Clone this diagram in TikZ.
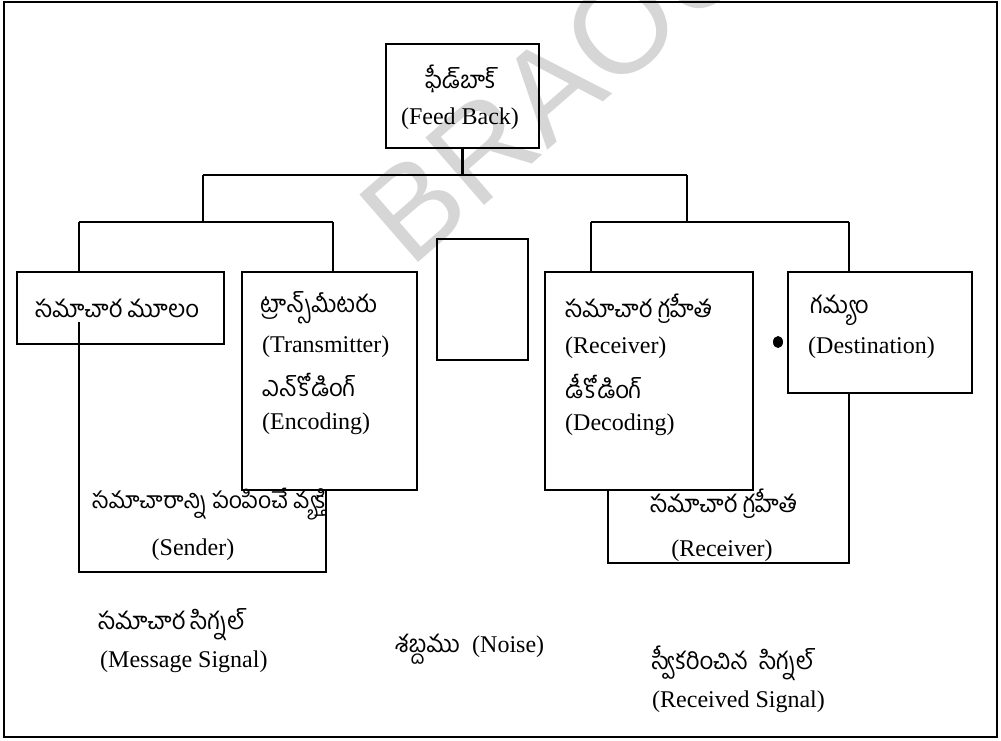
\documentclass[tikz,border=0pt]{standalone}
\usepackage{fontspec}
\setmainfont{Liberation Serif}
\newfontfamily\tel[Script=Telugu]{Hind Guntur}
\newfontfamily\wmfont{Liberation Sans}
\begin{document}
\begin{tikzpicture}[x=1pt,y=-1pt,
  box/.style={draw, line width=2.6pt, inner sep=0pt, outer sep=0pt},
  ln/.style={line width=2.6pt},
  en/.style={font=\fontsize{24}{28}\selectfont, inner sep=0pt, anchor=west},
  te/.style={font=\tel\fontsize{24}{28}\selectfont, inner sep=0pt, anchor=west},
  wm/.style={text=black!16, font=\wmfont\fontsize{130}{130}\selectfont, inner sep=0pt}]
\useasboundingbox (0,0) rectangle (1001,741);
% watermark
\node[wm, rotate=41] (mark) at (556,84) {BRAOU};
% frame
\draw[line width=2pt] (4,2) rectangle (997,737);
% boxes
\node[box, minimum width=153pt, minimum height=104pt] (fb) at (462.5,96) {};
\node[box, minimum width=207pt, minimum height=72pt] (src) at (120.5,308) {};
\node[box, minimum width=175pt, minimum height=218pt] (tx) at (329.5,381) {};
\node[box, minimum width=91pt, minimum height=121pt] (mid) at (482.5,299.5) {};
\node[box, minimum width=208pt, minimum height=218pt] (rx) at (649,381) {};
\node[box, minimum width=184pt, minimum height=121pt] (dst) at (880,332.5) {};
% junction coordinates
\coordinate (jt) at (462.5,175);
\coordinate (jl) at (203,175);
\coordinate (jr) at (687,175);
\coordinate (ll) at (79,222);
\coordinate (lr) at (333,222);
\coordinate (rl) at (591,222);
\coordinate (rr) at (849,222);
\coordinate (sa) at (79,322);
\coordinate (sb) at (79,572);
\coordinate (sc) at (326,572);
\coordinate (ra) at (608,563);
\coordinate (rb) at (849,563);
% connectors
\draw[ln] (fb.south) -- (jt);
\draw[ln] (jl) -- (jr);
\draw[ln] (jl) -- (jl |- ll);
\draw[ln] (jr) -- (jr |- rl);
\draw[ln] (ll) -- (lr);
\draw[ln] (ll) -- (ll |- src.north);
\draw[ln] (lr) -- (lr |- tx.north);
\draw[ln] (rl) -- (rr);
\draw[ln] (rl) -- (rl |- rx.north);
\draw[ln] (rr) -- (rr |- dst.north);
\draw[ln] (sa) -- (sb) -- (sc) -- (sc |- tx.south);
\draw[ln] (ra |- rx.south) -- (ra) -- (rb) -- (rb |- dst.south);
% blob
\fill (778,342) ellipse (5pt and 6pt);
% texts
\node[te, anchor=center] (fbt) at (461,79) {ఫీడ్‌బాక్};
\node[en, anchor=center] (fbe) at (460,119) {(Feed Back)};
\node[te] (srct) at (35,308) {సమాచార మూలం};
\node[te] (tx1) at (260,308) {ట్రాన్స్‌మీటరు};
\node[en] (tx2) at (262,347) {(Transmitter)};
\node[te] (tx3) at (262,385) {ఎన్‌కోడింగ్};
\node[en] (tx4) at (262,424) {(Encoding)};
\node[te] (rx1) at (565,309) {సమాచార గ్రహీత};
\node[en] (rx2) at (565,348) {(Receiver)};
\node[te] (rx3) at (565,386) {డీకోడింగ్};
\node[en] (rx4) at (565,425) {(Decoding)};
\node[te] (dst1) at (810,310) {గమ్యం};
\node[en] (dst2) at (808,348) {(Destination)};
\node[te, font=\tel\fontsize{23}{28}\selectfont] (snd1) at (92,504) {సమాచారాన్ని పంపించే వ్యక్తి};
\node[en, anchor=center] (snd2) at (193,550) {(Sender)};
\node[te] (rcv1) at (650,504) {సమాచార గ్రహీత};
\node[en, anchor=center] (rcv2) at (722,551) {(Receiver)};
\node[te] (ms1) at (98,625) {సమాచార సిగ్నల్};
\node[en] (ms2) at (100,662) {(Message Signal)};
\node[te, anchor=base west] (ns1) at (395,652) {శబ్దము};
\node[en, anchor=base west] (ns2) at (472,652) {(Noise)};
\node[te] (rs1) at (652,663) {స్వీకరించిన\ \ సిగ్నల్};
\node[en] (rs2) at (652,702) {(Received Signal)};
\end{tikzpicture}
\end{document}
